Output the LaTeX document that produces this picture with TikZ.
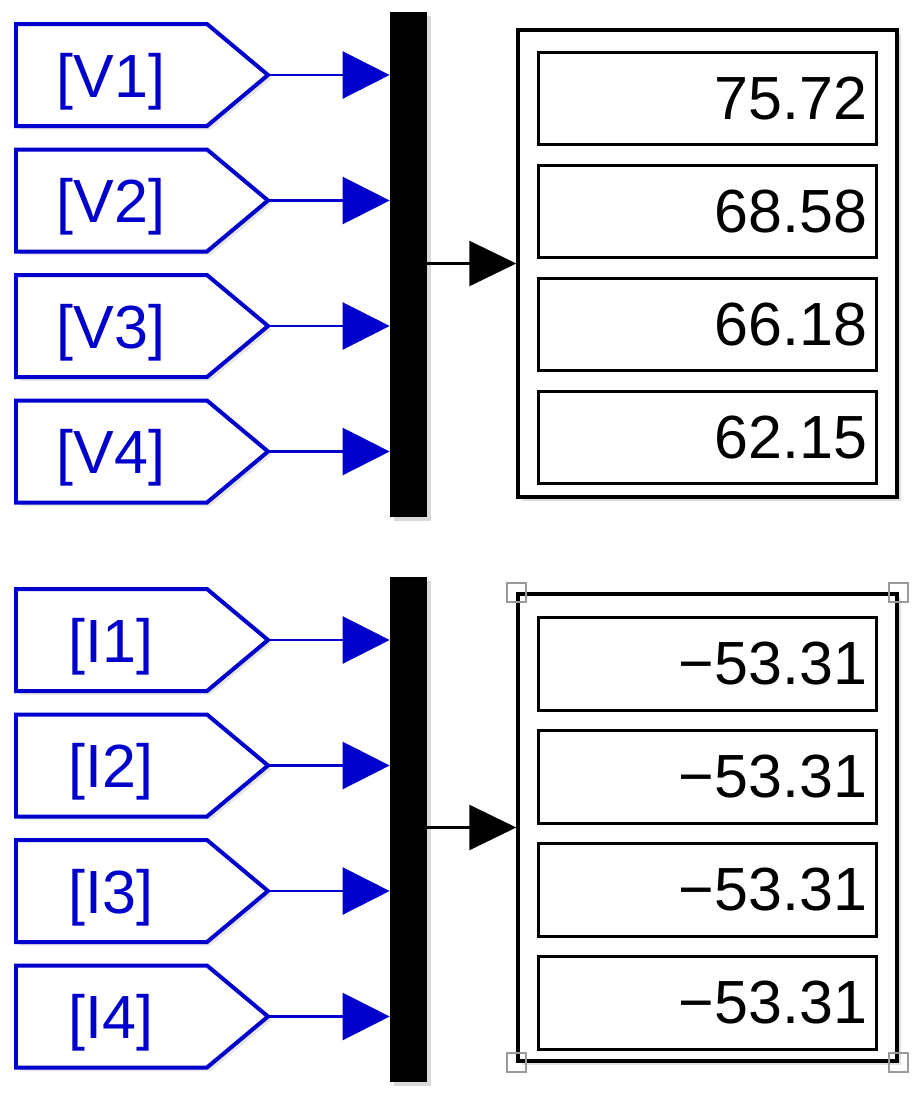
\documentclass[tikz,border=0pt]{standalone}
\usepackage{fontspec}
\setmainfont{Liberation Sans}
\usetikzlibrary{arrows.meta, positioning, shadows}
\definecolor{sblue}{HTML}{0000CC}
\definecolor{sgrey}{HTML}{9A9A9A}
\tikzset{
  every picture/.style={x=0.02cm, y=-0.02cm},
  tagline/.style={draw=sblue, fill=white, line width=0.08cm, drop shadow={shadow xshift=0.07cm, shadow yshift=-0.07cm, opacity=0.2}},
  tagtext/.style={text=sblue, inner sep=0pt, anchor=base, font=\fontsize{34.7}{40}\selectfont},
  mux/.style={fill=black, minimum width=0.74cm, minimum height=10.1cm, inner sep=0pt, drop shadow={shadow xshift=0.08cm, shadow yshift=-0.08cm, opacity=0.3}},
  display/.style={draw=black, fill=white, line width=0.07cm, minimum width=7.58cm, minimum height=9.34cm, inner sep=0pt, drop shadow={shadow xshift=0.08cm, shadow yshift=-0.08cm, opacity=0.25}},
  readout/.style={draw=black, line width=0.06cm, minimum width=6.78cm, minimum height=1.86cm, text width=6.38cm, align=right, inner xsep=0.2cm, inner ysep=0pt, font=\fontsize{34.7}{40}\selectfont},
  sig/.style={-{Triangle[length=0.94cm, width=0.94cm]}, draw=sblue, line width=0.05cm},
  outsig/.style={-{Triangle[length=0.94cm, width=0.9cm]}, draw=black, line width=0.05cm},
  handle/.style={draw=sgrey, line width=0.04cm, minimum size=0.38cm, inner sep=0pt},
}
\newcommand{\fromtag}[3]{% name, y, text
  \draw[tagline] (16,#2-51) -- (207,#2-51) -- (268,#2) -- (207,#2+51) -- (16,#2+51) -- cycle;
  \node[tagtext] (#1) at (111,#2+22) {#3};
  \coordinate (#1-tip) at (268,#2);}

\begin{document}
\begin{tikzpicture}
  \useasboundingbox (0,0) rectangle (920,1106);
  % voltage group
  \node[mux] (muxV) at (408.5,264.5) {};
  \foreach \t/\y in {V1/75, V2/200.5, V3/326, V4/451.5} {
    \fromtag{t\t}{\y}{[\t]}
    \draw[sig] (t\t-tip) -- (muxV.west |- t\t-tip);
  }
  \node[display] (dispV) at (707.5,263.5) {};
  \foreach \v/\y [count=\i] in {75.72/98.5, 68.58/211.5, 66.18/324.5, 62.15/437.5}
    \node[readout] (rV\i) at (707.5,\y) {\v};
  \draw[outsig] (muxV.east |- dispV.west) -- (dispV.west);
  % current group
  \node[mux] (muxI) at (408.5,829.5) {};
  \foreach \t/\y in {I1/640, I2/765.5, I3/891, I4/1016.5} {
    \fromtag{t\t}{\y}{[\t]}
    \draw[sig] (t\t-tip) -- (muxI.west |- t\t-tip);
  }
  \node[display] (dispI) at (707.5,827.5) {};
  \foreach \v/\y [count=\i] in {−53.31/663.5, −53.31/776.5, −53.31/889.5, −53.31/1002.5}
    \node[readout] (rI\i) at (707.5,\y) {\v};
  \draw[outsig] (muxI.east |- dispI.west) -- (dispI.west);
  % selection handles
  \foreach \a [count=\i] in {north west, north east, south west, south east}
    \node[handle] (h\i) at (dispI.\a) {};
\end{tikzpicture}
\end{document}
